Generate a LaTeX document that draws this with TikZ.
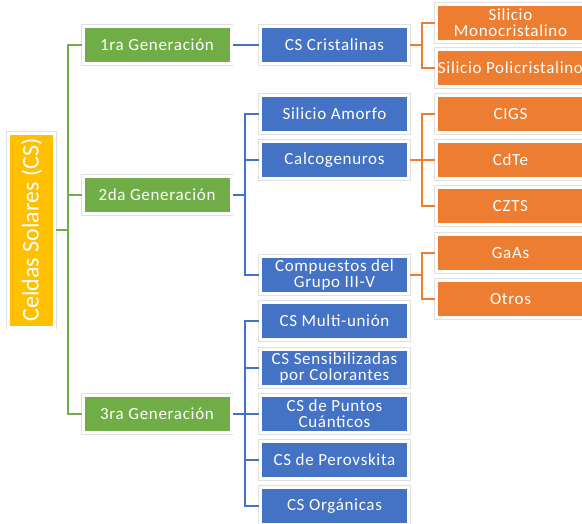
\documentclass[tikz,border=0pt]{standalone}
\usepackage{fontspec}
\setmainfont{Carlito}[LetterSpace=4.0]
\newfontfamily\raizfont{Carlito}
\definecolor{verde}{HTML}{70AD47}
\definecolor{azul}{HTML}{4472C4}
\definecolor{naranja}{HTML}{ED7D31}
\definecolor{amarillo}{HTML}{FFC000}
\begin{document}
\begin{tikzpicture}[
      x=1pt, y=-1pt,
      caja/.style={rectangle, draw=white, line width=3pt, text=white,
        align=center, inner sep=0pt, minimum width=148pt, minimum height=37pt,
        font=\fontsize{17}{16}\selectfont,
        preaction={draw=black!12, line width=4.5pt}},
      raiz/.style={caja, fill=amarillo, rotate=90, minimum width=194pt,
        minimum height=46pt, font=\raizfont\fontsize{24}{26}\selectfont},
      gen/.style={caja, fill=verde},
      tipo/.style={caja, fill=azul},
      mat/.style={caja, fill=naranja},
      lineav/.style={line width=2pt, draw=verde},
      lineaa/.style={line width=2pt, draw=azul},
      lineao/.style={line width=2pt, draw=naranja}
    ]
    \useasboundingbox (0,0) rectangle (582,523);
    \path (31.5,230) node(r) [raiz] {Celdas Solares (CS)}
    (157,45) node(g1) [gen] {1ra Generación}
    (157,195) node(g2) [gen] {2da Generación}
    (157,414) node(g3) [gen] {3ra Generación};
    \path (334.5,45) node(c1) [tipo] {CS Cristalinas}
    (334.5,114) node(b1) [tipo] {Silicio Amorfo}
    (334.5,160) node(b2) [tipo] {Calcogenuros}
    (334.5,275) node(b3) [tipo] {Compuestos del\\Grupo III-V}
    (334.5,321) node(t1) [tipo] {CS Multi-unión}
    (334.5,368) node(t2) [tipo] {CS Sensibilizadas\\por Colorantes}
    (334.5,414) node(t3) [tipo] {CS de Puntos\\Cuánticos}
    (334.5,460) node(t4) [tipo] {CS de Perovskita}
    (334.5,506) node(t5) [tipo] {CS Orgánicas};
    \path (510.5,23) node(m1) [mat] {Silicio\\Monocristalino}
    (510.5,68) node(m2) [mat] {Silicio Policristalino}
    (510.5,114) node(m3) [mat] {CIGS}
    (510.5,160) node(m4) [mat] {CdTe}
    (510.5,206) node(m5) [mat] {CZTS}
    (510.5,253) node(m6) [mat] {GaAs}
    (510.5,299) node(m7) [mat] {Otros};
    % ramas
    \coordinate (jr) at (68,230);
    \coordinate (j2) at (245,195);
    \coordinate (j3) at (245,414);
    \coordinate (jc) at (422,45);
    \coordinate (jb) at (422,160);
    \coordinate (jd) at (422,275);
    \draw[lineav] (r) -- (jr);
    \foreach \n in {g1,g2,g3} \draw[lineav] (jr) |- (\n.west);
    \draw[lineaa] (g1) -- (c1);
    \draw[lineaa] (g2) -- (j2);
    \foreach \n in {b1,b2,b3} \draw[lineaa] (j2) |- (\n.west);
    \draw[lineaa] (g3) -- (j3);
    \foreach \n in {t1,t2,t3,t4,t5} \draw[lineaa] (j3) |- (\n.west);
    \draw[lineao] (c1) -- (jc);
    \foreach \n in {m1,m2} \draw[lineao] (jc) |- (\n.west);
    \draw[lineao] (b2) -- (jb);
    \foreach \n in {m3,m4,m5} \draw[lineao] (jb) |- (\n.west);
    \draw[lineao] (b3) -- (jd);
    \foreach \n in {m6,m7} \draw[lineao] (jd) |- (\n.west);
  \end{tikzpicture}
\end{document}
